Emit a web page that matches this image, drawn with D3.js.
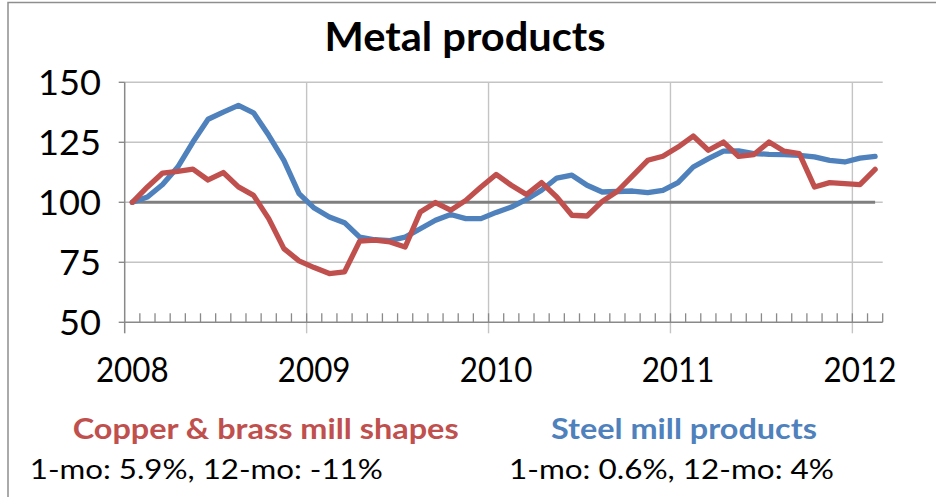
<!DOCTYPE html>
<html>
<head>
<meta charset="utf-8">
<script src="https://cdn.jsdelivr.net/npm/d3@7"></script>
<style>
  html, body { margin: 0; padding: 0; background: #fff; }
  svg { display: block; font-family: Lato, "Open Sans", sans-serif; }
</style>
</head>
<body>
<svg id="chart" width="936" height="497"></svg>
<script>
// Monthly index, Jan 2008 = 100
const months = d3.timeMonths(new Date(2008, 0, 1), new Date(2012, 2, 1)); // Jan 2008 .. Feb 2012

const copper = [
  100.0, 106.4, 112.2, 112.9, 113.8, 109.3, 112.4, 106.4, 102.9, 93.2, 80.7, 75.6,
  72.8, 70.3, 71.0, 83.8, 84.2, 83.5, 81.4, 96.0, 99.9, 96.7, 100.8, 106.4,
  111.6, 107.1, 103.2, 108.2, 102.2, 94.6, 94.3, 100.4, 104.6, 111.0, 117.5, 119.2,
  123.0, 127.6, 121.7, 125.1, 119.1, 119.9, 125.1, 121.3, 120.3, 106.4, 108.2, 107.8,
  107.4, 113.7
];

const steel = [
  100.0, 102.2, 107.4, 114.7, 125.1, 134.6, 137.6, 140.4, 137.3, 127.9, 117.5, 103.6,
  97.6, 93.9, 91.5, 85.5, 84.4, 84.0, 85.5, 89.0, 92.5, 94.9, 93.2, 93.2,
  95.8, 98.0, 101.2, 105.0, 110.1, 111.3, 107.1, 104.3, 104.5, 104.7, 104.0, 105.0,
  108.2, 114.7, 118.2, 121.3, 121.4, 120.3, 120.0, 119.9, 119.6, 118.9, 117.5, 116.8,
  118.4, 119.1
];

const baseline = months.map(() => 100);

const yTicks = [50, 75, 100, 125, 150];
const titleText = "Metal products";
const seriesNames = ["Copper & brass mill shapes", "Steel mill products"];
const seriesNotes = ["1-mo: 5.9%, 12-mo: -11%", "1-mo: 0.6%, 12-mo: 4%"];

const RED = "#C0504D", BLUE = "#4F81BD";
const GRID = "#C4C4C4", AXIS = "#898989";

const svg = d3.select("#chart");
svg.append("rect").attr("width", 936).attr("height", 497).attr("fill", "#fff");

// chart-area frame (top and left edges)
svg.append("path")
  .attr("d", "M8,497V2.5H936")
  .attr("fill", "none").attr("stroke", "#8E8E8E").attr("stroke-width", 1.5);

const plotL = 124.7, plotR = 882.7, plotT = 82.3, plotB = 322.3;

const x = d3.scaleBand().domain(months).range([plotL, plotR]).padding(0);
const xc = d => x(d) + x.bandwidth() / 2;
const y = d3.scaleLinear().domain([50, 150]).range([plotB, plotT]);

// horizontal gridlines
svg.append("g").selectAll("line").data(yTicks.filter(v => v > 50)).join("line")
  .attr("x1", plotL).attr("x2", plotR)
  .attr("y1", d => y(d)).attr("y2", d => y(d))
  .attr("stroke", GRID).attr("stroke-width", 1.4);

// vertical gridlines at year boundaries, continuing below the axis as major ticks
const yearStarts = months.filter(d => d.getMonth() === 0);
svg.append("g").selectAll("line").data(yearStarts.slice(1)).join("line")
  .attr("x1", d => x(d)).attr("x2", d => x(d))
  .attr("y1", plotT).attr("y2", plotB + 11)
  .attr("stroke", GRID).attr("stroke-width", 1.4);

// minor ticks at every month boundary, inside the plot
svg.append("g").selectAll("line").data(months.slice(1).concat([null])).join("line")
  .attr("x1", d => d ? x(d) : plotR).attr("x2", d => d ? x(d) : plotR)
  .attr("y1", plotB - 9).attr("y2", plotB)
  .attr("stroke", AXIS).attr("stroke-width", 1.3);

// y axis line and outside ticks
svg.append("line")
  .attr("x1", plotL).attr("x2", plotL).attr("y1", plotT).attr("y2", plotB + 11)
  .attr("stroke", AXIS).attr("stroke-width", 1.5);
svg.append("g").selectAll("line").data(yTicks).join("line")
  .attr("x1", plotL - 6).attr("x2", plotL)
  .attr("y1", d => y(d)).attr("y2", d => y(d))
  .attr("stroke", AXIS).attr("stroke-width", 1.4);

// x axis line
svg.append("line")
  .attr("x1", plotL).attr("x2", plotR).attr("y1", plotB).attr("y2", plotB)
  .attr("stroke", AXIS).attr("stroke-width", 1.5);

// series lines
const line = d3.line().x((d, i) => xc(months[i])).y(d => y(d));
svg.append("path").datum(baseline).attr("d", line)
  .attr("fill", "none").attr("stroke", "#7F7F7F").attr("stroke-width", 3);
svg.append("path").datum(steel).attr("d", line)
  .attr("fill", "none").attr("stroke", BLUE).attr("stroke-width", 5.3)
  .attr("stroke-linejoin", "round").attr("stroke-linecap", "round");
svg.append("path").datum(copper).attr("d", line)
  .attr("fill", "none").attr("stroke", RED).attr("stroke-width", 5.3)
  .attr("stroke-linejoin", "round").attr("stroke-linecap", "round");

// text helper: squeeze to a given width
function fit(sel, w) {
  sel.attr("textLength", w).attr("lengthAdjust", "spacingAndGlyphs");
  return sel;
}

// x axis year labels
const xLab = svg.append("g").attr("font-size", 34).attr("fill", "#000");
yearStarts.forEach(d => {
  fit(xLab.append("text")
    .attr("x", xc(d)).attr("y", 382).attr("text-anchor", "middle")
    .text(d3.timeFormat("%Y")(d)), 72.7);
});

// y axis labels
const yLab = svg.append("g").attr("font-size", 35).attr("fill", "#000");
yTicks.forEach(v => {
  const s = String(v);
  fit(yLab.append("text")
    .attr("x", 101).attr("y", y(v) + 12.5).attr("text-anchor", "end")
    .text(s), 21 * s.length);
});

// title
fit(svg.append("text")
  .attr("x", 324.6).attr("y", 51).attr("font-size", 41).attr("font-weight", "bold")
  .attr("fill", "#000").text(titleText), 281);

// series captions
fit(svg.append("text").attr("x", 72.7).attr("y", 438.5)
  .attr("font-size", 28).attr("font-weight", "bold").attr("fill", RED)
  .text(seriesNames[0]), 386);
fit(svg.append("text").attr("x", 551).attr("y", 438.5)
  .attr("font-size", 28).attr("font-weight", "bold").attr("fill", BLUE)
  .text(seriesNames[1]), 266);

fit(svg.append("text").attr("x", 29.8).attr("y", 478.5)
  .attr("font-size", 27).attr("fill", "#000").text(seriesNotes[0]), 353);
fit(svg.append("text").attr("x", 509).attr("y", 478.5)
  .attr("font-size", 27).attr("fill", "#000").text(seriesNotes[1]), 325);
</script>
</body>
</html>
